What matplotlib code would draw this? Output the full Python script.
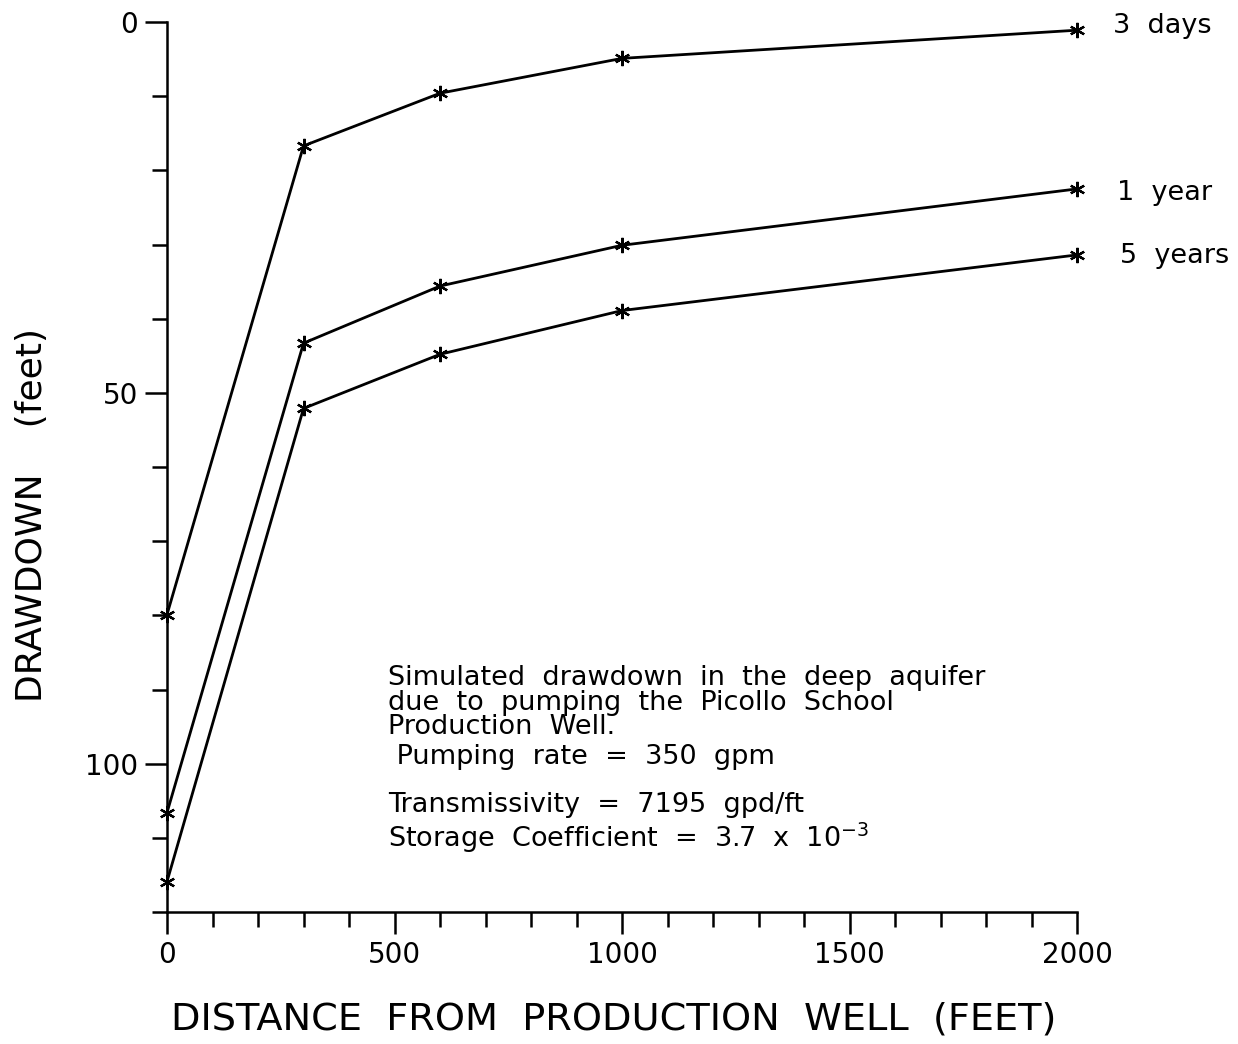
import matplotlib
matplotlib.use("Agg")
import matplotlib.pyplot as plt
import numpy as np

distance = [0, 300, 600, 1000, 2000]
drawdown3Days = [79.9, 16.7, 9.6, 4.9, 1.1]
drawdown1Year = [106.6, 43.3, 35.6, 30.1, 22.5]
drawdown5Years = [115.9, 52.1, 44.8, 38.9, 31.4]
seriesNames = ["3  days", "1  year", "5  years"]

noteHead = [
    "Simulated  drawdown  in  the  deep  aquifer",
    "due  to  pumping  the  Picollo  School",
    "Production  Well.",
]
noteLines = [
    " Pumping  rate  =  350  gpm",
    "Transmissivity  =  7195  gpd/ft",
    r"Storage  Coefficient  =  3.7  x  10$^{-3}$",
]

plt.rcParams['font.family'] = ['DejaVu Sans']
plt.rcParams['mathtext.fontset'] = 'dejavusans'

fig = plt.figure(figsize=(12.38, 10.44), dpi=100, facecolor="white")
ax = fig.add_axes([0.1349, 0.1264, 0.7351, 0.8525])

series = [drawdown3Days, drawdown1Year, drawdown5Years]
labelOffsets = [(26, 3), (29, -3), (31, -1)]
for vals, name, off in zip(series, seriesNames, labelOffsets):
    ax.plot(distance, vals, color="black", linewidth=2.0, marker=(6, 2, 0),
            markersize=11, markeredgewidth=1.6, clip_on=False)
    ax.annotate(name, xy=(distance[-1], vals[-1]), xytext=off, textcoords="offset points",
                ha="left", va="center", fontsize=19.5)

ax.set_xlim(0, 2000)
ax.set_ylim(120, 0)
for s in ["top", "right"]:
    ax.spines[s].set_visible(False)
for s in ["left", "bottom"]:
    ax.spines[s].set_linewidth(1.8)

ax.set_xticks([0, 500, 1000, 1500, 2000])
ax.set_xticks(np.arange(0, 2001, 100), minor=True)
ax.set_yticks([0, 50, 100])
ax.set_yticks(np.arange(0, 121, 10), minor=True)
ax.tick_params(which="major", length=16, width=1.8, labelsize=20, pad=5, direction="out")
ax.tick_params(which="minor", length=11, width=1.8, direction="out")

ax.set_xlabel("DISTANCE  FROM  PRODUCTION  WELL  (FEET)", fontsize=27.5, va="center")
ax.xaxis.set_label_coords(0.491, -0.121)
ax.set_ylabel("DRAWDOWN    (feet)", fontsize=26, va="center")
ax.yaxis.set_label_coords(-0.148, 0.446)

ax.text(0.243, 0.235, "\n".join(noteHead), transform=ax.transAxes, ha="left", va="center",
        fontsize=19.5, linespacing=0.93)
noteY = [0.174, 0.120, 0.084]
for line, y in zip(noteLines, noteY):
    ax.text(0.243, y, line, transform=ax.transAxes, ha="left", va="center", fontsize=19.5)

fig.savefig("out.png", dpi=100, facecolor="white")
